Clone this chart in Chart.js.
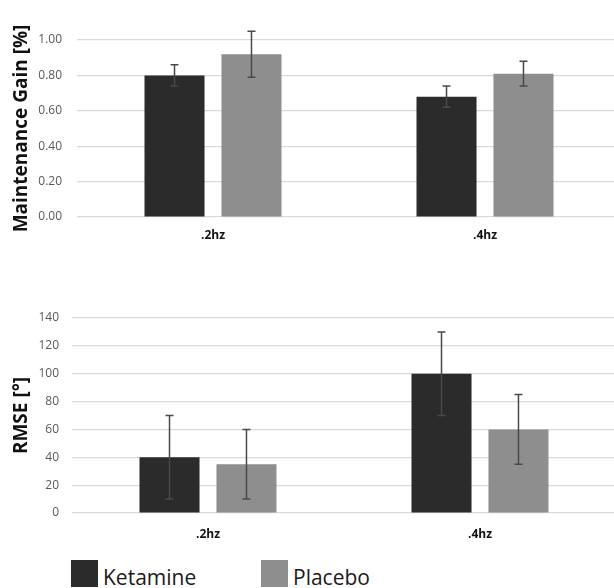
<!DOCTYPE html>
<html>
<head>
<meta charset="utf-8">
<script src="https://cdn.jsdelivr.net/npm/chart.js@4.4.0/dist/chart.umd.min.js"></script>
<style>
  body { margin: 0; background: #ffffff; overflow: hidden; width: 614px; height: 588px; position: relative; }
  .caixa { position: absolute; left: 0; overflow: hidden; }
  #caixa-ganho { top: 0; width: 614px; height: 250px; }
  #caixa-rmse { top: 280px; width: 614px; height: 270px; }
  #legenda { position: absolute; top: 560px; left: 71px; font-family: "Open Sans", sans-serif; font-size: 21px; color: #1a1a1a; }
  .item-legenda { position: absolute; top: 0; white-space: nowrap; }
  .item-legenda span.cor { position: absolute; left: 0; top: 0; width: 27px; height: 27px; }
  .item-legenda span.texto { position: absolute; left: 32px; top: 3px; }
</style>
</head>
<body>
<div class="caixa" id="caixa-ganho"><canvas id="grafico-ganho" width="621" height="250"></canvas></div>
<div class="caixa" id="caixa-rmse"><canvas id="grafico-rmse" width="616" height="270"></canvas></div>
<div id="legenda"></div>

<script>
// dados
const frequencias = ['.2hz', '.4hz']
const grupos = ['Ketamine', 'Placebo']
const coresGrupos = ['#2b2b2b', '#8e8e8e']

const ganhoKetamine = [0.80, 0.68]
const ganhoKetamineErro = [0.06, 0.06]
const ganhoPlacebo = [0.92, 0.81]
const ganhoPlaceboErro = [0.13, 0.07]
const ticksGanho = [0, 0.2, 0.4, 0.6, 0.8, 1.0]

const rmseKetamine = [40, 100]
const rmseKetamineErro = [30, 30]
const rmsePlacebo = [35, 60]
const rmsePlaceboErro = [25, 25]
const ticksRmse = [0, 20, 40, 60, 80, 100, 120, 140]

// barras de erro desenhadas pela escala y
const barrasErro = {
  id: 'barrasErro',
  afterDatasetsDraw(chart) {
    const ctx = chart.ctx
    const escalaY = chart.scales.y
    chart.data.datasets.forEach((ds, i) => {
      const meta = chart.getDatasetMeta(i)
      meta.data.forEach((barra, j) => {
        const valor = ds.data[j]
        const erro = ds.erro[j]
        const yCima = escalaY.getPixelForValue(valor + erro)
        const yBaixo = escalaY.getPixelForValue(valor - erro)
        ctx.save()
        ctx.strokeStyle = '#4a4a4a'
        ctx.lineWidth = 1.5
        ctx.beginPath()
        ctx.moveTo(barra.x, yCima)
        ctx.lineTo(barra.x, yBaixo)
        ctx.moveTo(barra.x - 4, yCima)
        ctx.lineTo(barra.x + 4, yCima)
        ctx.moveTo(barra.x - 4, yBaixo)
        ctx.lineTo(barra.x + 4, yBaixo)
        ctx.stroke()
        ctx.restore()
      })
    })
  }
}

function criarGrafico(idCanvas, dadosK, erroK, dadosP, erroP, ticks, titulo, casas, larguraEixo, paddingTopo, paddingTicks, paddingX, alturaX) {
  const ctx = document.getElementById(idCanvas)
  new Chart(ctx, {
    type: 'bar',
    data: {
      labels: frequencias,
      datasets: [
        {
          label: grupos[0],
          data: dadosK,
          erro: erroK,
          backgroundColor: coresGrupos[0],
          categoryPercentage: 0.566,
          barPercentage: 0.78
        },
        {
          label: grupos[1],
          data: dadosP,
          erro: erroP,
          backgroundColor: coresGrupos[1],
          categoryPercentage: 0.566,
          barPercentage: 0.78
        }
      ]
    },
    options: {
      responsive: false,
      animation: false,
      layout: { padding: { top: paddingTopo, right: 0, bottom: 0, left: 0 } },
      plugins: {
        legend: { display: false },
        tooltip: { enabled: false }
      },
      scales: {
        x: {
          grid: { display: false },
          border: { display: false },
          ticks: {
            color: '#111111',
            padding: paddingX,
            font: { family: 'Open Sans', size: 12, weight: 'bold' }
          },
          afterFit: (escala) => { escala.height = alturaX }
        },
        y: {
          min: ticks[0],
          max: ticks[ticks.length - 1],
          afterBuildTicks: (escala) => { escala.ticks = ticks.map(v => ({ value: v })) },
          grid: { color: '#d9d9d9', lineWidth: 1.2, drawTicks: false },
          border: { display: false },
          ticks: {
            color: '#595959',
            padding: paddingTicks,
            font: { family: 'Open Sans', size: 12 },
            callback: (v) => Number(v).toFixed(casas)
          },
          title: {
            display: true,
            text: titulo,
            color: '#111111',
            padding: { top: 10, bottom: 0 },
            font: { family: 'Open Sans', size: 19, weight: 'bold' }
          },
          afterFit: (escala) => { escala.width = larguraEixo }
        }
      }
    },
    plugins: [barrasErro]
  })
}

criarGrafico('grafico-ganho', ganhoKetamine, ganhoKetamineErro, ganhoPlacebo, ganhoPlaceboErro,
  ticksGanho, 'Maintenance Gain [%]', 2, 77, 40, 15, 3, 33)
criarGrafico('grafico-rmse', rmseKetamine, rmseKetamineErro, rmsePlacebo, rmsePlaceboErro,
  ticksRmse, 'RMSE [°]', 0, 72, 38, 13, 6, 37)

// legenda em html com as mesmas cores
const legenda = document.getElementById('legenda')
const posicoesLegenda = [0, 190]
grupos.forEach((nome, i) => {
  const item = document.createElement('div')
  item.className = 'item-legenda'
  item.style.left = posicoesLegenda[i] + 'px'
  item.innerHTML = `<span class="cor" style="background:${coresGrupos[i]}"></span><span class="texto">${nome}</span>`
  legenda.appendChild(item)
})
</script>
</body>
</html>
